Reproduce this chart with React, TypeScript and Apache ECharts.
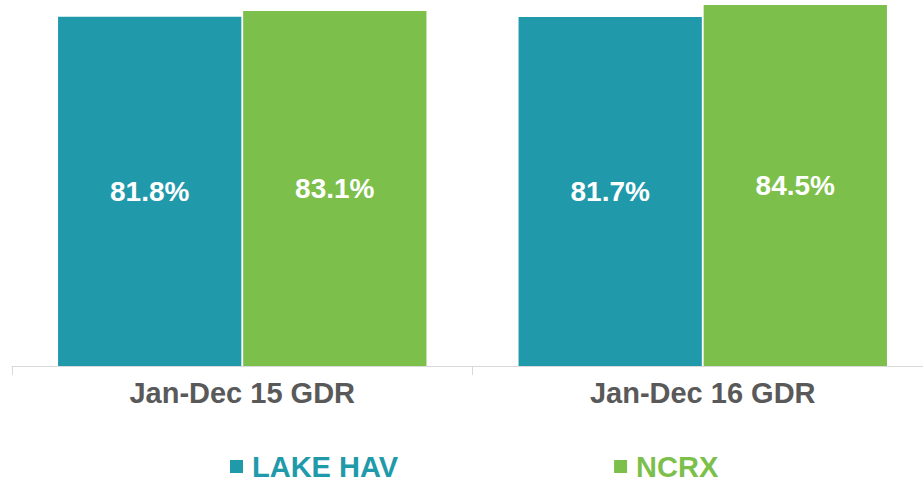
import React, { useEffect, useRef } from "react";
import * as echarts from "echarts";

const categories = ["Jan-Dec 15 GDR", "Jan-Dec 16 GDR"];
const lakeHav = [81.8, 81.7];
const ncrx = [83.1, 84.5];
const seriesNames = ["LAKE HAV", "NCRX"];

const TEAL = "#209AAA";
const GREEN = "#7CBF4B";
const FONT = "'Liberation Sans', Arial, sans-serif";

export default function App() {
  const ref = useRef<HTMLDivElement>(null);
  useEffect(() => {
    if (!ref.current) return;
    const chart = echarts.init(ref.current, null, { renderer: "svg" });
    chart.setOption({
      animation: false,
      textStyle: { fontFamily: FONT },
      grid: {
        left: 12,
        width: 921,
        top: 0,
        height: 366,
        containLabel: false,
        outerBoundsMode: "none",
      },
      legend: {
        left: 230,
        top: 452,
        padding: 0,
        itemWidth: 13,
        itemHeight: 13,
        itemGap: 216,
        icon: "rect",
        data: [
          { name: seriesNames[0], textStyle: { color: TEAL } },
          { name: seriesNames[1], textStyle: { color: GREEN } },
        ],
        textStyle: {
          fontSize: 29,
          fontWeight: "bold",
          fontFamily: FONT,
          padding: [0, 0, 0, 4],
        },
      },
      xAxis: {
        type: "category",
        data: categories,
        axisLine: { lineStyle: { color: "#D9D9D9", width: 1 } },
        axisTick: { show: true, length: 9, lineStyle: { color: "#D9D9D9" } },
        axisLabel: {
          color: "#595959",
          fontSize: 29,
          fontWeight: "bold",
          fontFamily: FONT,
          margin: 12,
        },
      },
      yAxis: {
        type: "value",
        min: 0,
        max: 85.7,
        show: false,
        splitLine: { show: false },
      },
      series: [
        {
          name: seriesNames[0],
          type: "bar",
          data: lakeHav,
          barCategoryGap: "20%",
          barGap: "1%",
          itemStyle: { color: TEAL },
          label: {
            show: true,
            position: "inside",
            color: "#fff",
            fontSize: 28,
            fontWeight: "bold",
            fontFamily: FONT,
            formatter: "{c}%",
          },
        },
        {
          name: seriesNames[1],
          type: "bar",
          data: ncrx,
          barCategoryGap: "20%",
          barGap: "1%",
          itemStyle: { color: GREEN },
          label: {
            show: true,
            position: "inside",
            color: "#fff",
            fontSize: 28,
            fontWeight: "bold",
            fontFamily: FONT,
            formatter: "{c}%",
          },
        },
      ],
    });
    return () => chart.dispose();
  }, []);
  return (
    <div
      ref={ref}
      style={{ position: "fixed", left: 0, top: 0, width: 923, height: 484, background: "#fff" }}
    />
  );
}
